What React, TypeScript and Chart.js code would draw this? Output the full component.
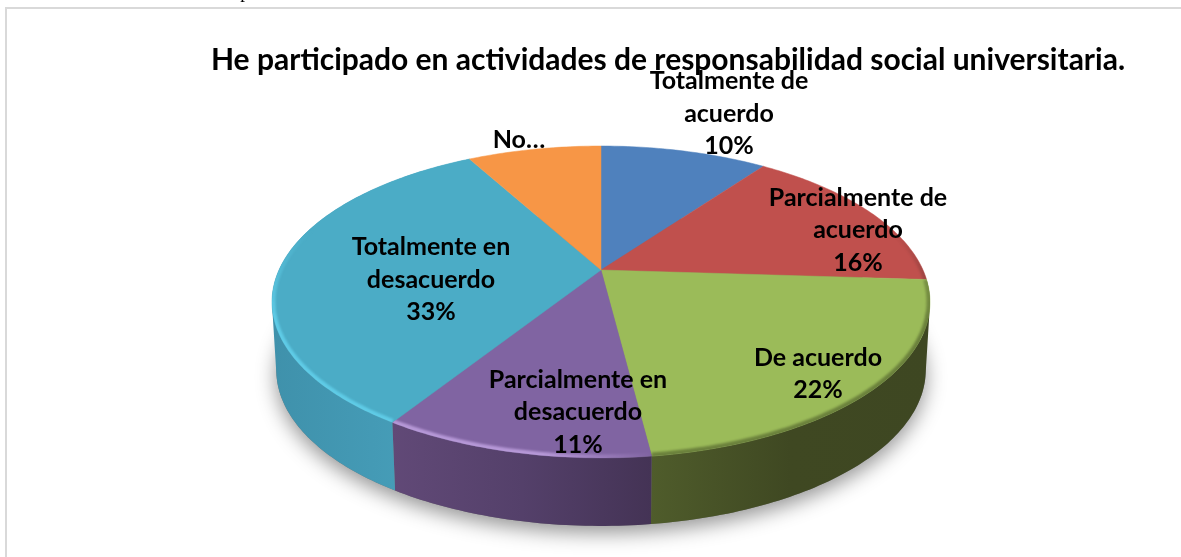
import React, { useEffect, useRef } from "react";
import { Chart, registerables } from "chart.js";

Chart.register(...registerables);

const title = "He participado en actividades de responsabilidad social universitaria.";
const categories = [
  "Totalmente de acuerdo",
  "Parcialmente de acuerdo",
  "De acuerdo",
  "Parcialmente en desacuerdo",
  "Totalmente en desacuerdo",
  "No...",
];
const shares = [10, 16, 22, 11, 33, 8];
const topColors = ["#4f81bd", "#c0504d", "#9bbb59", "#8064a2", "#4bacc6", "#f79646"];

// Label layout, in slice order: wrapped text lines and their centre
const labelLines = [
  ["Totalmente de", "acuerdo", "10%"],
  ["Parcialmente de", "acuerdo", "16%"],
  ["De acuerdo", "22%"],
  ["Parcialmente en", "desacuerdo", "11%"],
  ["Totalmente en", "desacuerdo", "33%"],
  ["No…"],
];
const labelCentres = [
  [729, 113.5],
  [858, 230],
  [818, 374],
  [578, 412],
  [431, 279.5],
  [519, 140],
];

// Side wall gradient per slice (null: wall hidden at the back)
const sideStops: (string[] | null)[] = [
  null,
  null,
  ["#4f5c2b", "#3f4822", "#3e4722"],
  ["#614977", "#54406a", "#443355"],
  ["#3f91ab", "#449ab5", "#4aa3bd"],
  null,
];
// Bevel: direction of its fade, from-colour, to-colour (null: no bevel)
const rimStyles: ([string, string, string] | null)[] = [
  null,
  ["v", "rgba(70,40,40,0)", "rgba(70,40,40,0.5)"],
  ["v", "rgba(50,60,25,0.15)", "rgba(50,60,25,0.45)"],
  ["h", "rgba(185,155,218,0.95)", "rgba(185,155,218,0)"],
  ["v", "rgba(96,205,232,0)", "rgba(96,205,232,0.95)"],
  null,
];

const FONT = "Lato, 'Open Sans', sans-serif";
const TILT = 0.205;
const X_STRETCH = 322 / 150;
const Y_STRETCH = 149.4 / 150;
const DEPTH = 68;
const BOTTOM_SHRINK = 0.987;

type Pt = [number, number];

function project(arc: any, angle: number, radius = arc.outerRadius): Pt {
  const px = Math.cos(angle) * radius;
  const py = Math.sin(angle) * radius;
  const w = 1 - (TILT * py) / arc.outerRadius;
  return [arc.x + (X_STRETCH * px) / w, arc.y + (Y_STRETCH * py) / w];
}

function rimPoints(arc: any): Pt[] {
  const n = Math.max(12, Math.ceil((arc.endAngle - arc.startAngle) * 60));
  const out: Pt[] = [];
  for (let i = 0; i <= n; i++) {
    out.push(project(arc, arc.startAngle + ((arc.endAngle - arc.startAngle) * i) / n));
  }
  return out;
}

function lower(arc: any, p: Pt): Pt {
  return [arc.x + (p[0] - arc.x) * BOTTOM_SHRINK, p[1] + DEPTH];
}

function trace(ctx: CanvasRenderingContext2D, pts: Pt[], move = true) {
  pts.forEach((p, i) => (i === 0 && move ? ctx.moveTo(p[0], p[1]) : ctx.lineTo(p[0], p[1])));
}

function signedArea(q: Pt[]) {
  let s = 0;
  q.forEach((p, i) => {
    const n = q[(i + 1) % q.length];
    s += p[0] * n[1] - n[0] * p[1];
  });
  return s;
}

const pie3d = {
  id: "pie3d",
  beforeDatasetDraw() {
    return false;
  },
  beforeDraw(chart: any) {
    const ctx: CanvasRenderingContext2D = chart.ctx;
    ctx.save();
    ctx.fillStyle = "#ffffff";
    ctx.fillRect(0, 0, chart.width, chart.height);
    ctx.strokeStyle = "#d9d9d9";
    ctx.lineWidth = 2;
    ctx.beginPath();
    ctx.moveTo(chart.width, 8);
    ctx.lineTo(6, 8);
    ctx.lineTo(6, chart.height);
    ctx.stroke();
    ctx.fillStyle = "#000000";
    ctx.font = "19px 'Liberation Serif', serif";
    ctx.textAlign = "center";
    ctx.textBaseline = "alphabetic";
    ctx.fillText("p", 245, -2);
    ctx.restore();
  },
  afterDatasetsDraw(chart: any) {
    const ctx: CanvasRenderingContext2D = chart.ctx;
    const arcs: any[] = chart.getDatasetMeta(0).data;
    ctx.save();

    // ground shadow
    const whole: Pt[] = [];
    for (const a of arcs) whole.push(...rimPoints(a).map((p) => lower(a, p)));
    ctx.save();
    ctx.shadowColor = "rgba(0,0,0,0.42)";
    ctx.shadowBlur = 20;
    ctx.shadowOffsetY = 7;
    ctx.fillStyle = "#777777";
    ctx.beginPath();
    trace(ctx, whole);
    ctx.closePath();
    ctx.fill();
    ctx.restore();

    // side walls: one path of same-winding quads, so the silhouette stays closed
    arcs.forEach((a, i) => {
      const stops = sideStops[i];
      if (!stops) return;
      const pts = rimPoints(a);
      const low = pts.map((p) => lower(a, p));
      const xs = pts.concat(low).map((p) => p[0]);
      const g = ctx.createLinearGradient(Math.min(...xs), 0, Math.max(...xs), 0);
      stops.forEach((c, k) => g.addColorStop(k / (stops.length - 1), c));
      ctx.fillStyle = g;
      ctx.beginPath();
      for (let k = 0; k < pts.length - 1; k++) {
        const quad: Pt[] = [pts[k], pts[k + 1], low[k + 1], low[k]];
        if (signedArea(quad) < 0) quad.reverse();
        trace(ctx, quad);
        ctx.closePath();
      }
      ctx.fill("nonzero");
    });

    // top faces
    arcs.forEach((a) => {
      ctx.fillStyle = a.options.backgroundColor;
      ctx.strokeStyle = a.options.backgroundColor;
      ctx.lineWidth = 0.5;
      ctx.beginPath();
      ctx.moveTo(a.x, a.y);
      trace(ctx, rimPoints(a), false);
      ctx.closePath();
      ctx.fill();
      ctx.stroke();
    });

    // soft bevel along the rim, kept inside the top face
    arcs.forEach((a, i) => {
      const style = rimStyles[i];
      if (!style) return;
      const pts = rimPoints(a);
      const xs = pts.map((p) => p[0]);
      const g =
        style[0] === "v"
          ? ctx.createLinearGradient(0, 230, 0, 320)
          : ctx.createLinearGradient(Math.min(...xs) + 150, 0, Math.max(...xs), 0);
      g.addColorStop(0, style[1]);
      g.addColorStop(1, style[2]);
      ctx.save();
      ctx.beginPath();
      ctx.moveTo(a.x, a.y);
      trace(ctx, pts, false);
      ctx.closePath();
      ctx.clip();
      ctx.filter = "blur(1px)";
      ctx.strokeStyle = g;
      ctx.lineWidth = 7;
      ctx.beginPath();
      trace(ctx, pts);
      ctx.stroke();
      ctx.restore();
    });

    // data labels
    ctx.fillStyle = "#000000";
    ctx.textAlign = "center";
    ctx.textBaseline = "middle";
    ctx.font = `bold 25px ${FONT}`;
    labelLines.forEach((lines, i) => {
      const [cx, cy] = labelCentres[i];
      lines.forEach((line, k) => {
        ctx.fillText(line, cx, cy + (k - (lines.length - 1) / 2) * 32.5);
      });
    });

    // title
    ctx.font = `bold 30px ${FONT}`;
    ctx.fillText(title, 668, 60);
    ctx.restore();
  },
};

export default function App() {
  const ref = useRef<HTMLCanvasElement>(null);
  useEffect(() => {
    document.body.style.margin = "0";
    const chart = new Chart(ref.current!, {
      type: "pie",
      data: {
        labels: categories,
        datasets: [{ data: shares, backgroundColor: topColors, borderWidth: 0 }],
      },
      options: {
        responsive: false,
        animation: false,
        layout: { padding: { left: 451, right: 430, top: 120, bottom: 137 } },
        plugins: { legend: { display: false }, tooltip: { enabled: false }, title: { display: false } },
      },
      plugins: [pie3d],
    } as any);
    return () => chart.destroy();
  }, []);
  return <canvas ref={ref} width={1181} height={557} style={{ display: "block" }} />;
}
